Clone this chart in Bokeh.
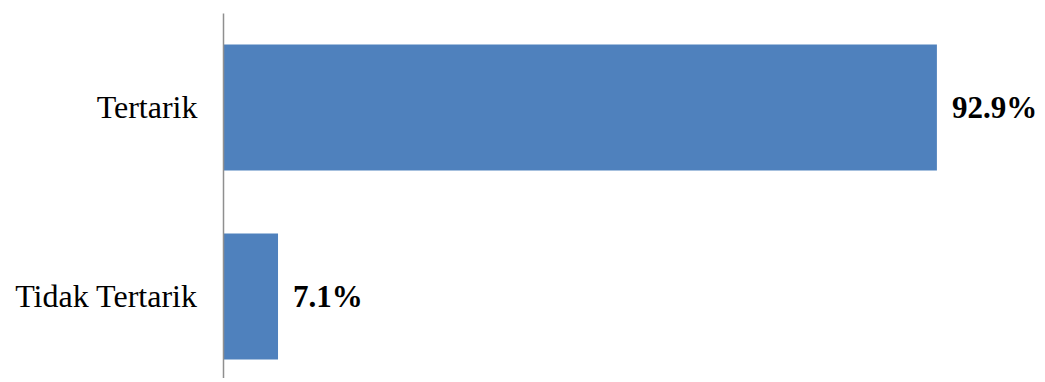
from bokeh.plotting import figure
from bokeh.models import ColumnDataSource, FixedTicker, Range1d
from bokeh.core.properties import value
from bokeh.embed import file_html
from bokeh.resources import INLINE

categories = ["Tertarik", "Tidak Tertarik"]
percentages = [92.9, 7.1]
value_labels = ["92.9%", "7.1%"]

n = len(categories)
ypos = [n - 1 - i for i in range(n)]

src = ColumnDataSource(dict(
    y=ypos,
    right=percentages,
    label=value_labels,
    cat=categories,
))

p = figure(width=1037, height=378, output_backend="svg", toolbar_location=None,
           x_range=Range1d(0, 106), y_range=Range1d(-0.434, 1.497),
           min_border_left=223, min_border_right=0, min_border_top=13, min_border_bottom=0)

p.hbar(y="y", left=0, right="right", height=0.667, source=src,
       fill_color="#4F81BD", line_color=None)

p.text(x="right", y="y", text="label", source=src, x_offset=15,
       text_align="left", text_baseline="middle",
       text_font=value("Liberation Serif"), text_font_style="bold",
       text_font_size="31px", text_color="black")

p.xaxis.visible = False
p.xgrid.visible = False
p.ygrid.visible = False
p.outline_line_color = None

ya = p.yaxis[0]
ya.ticker = FixedTicker(ticks=ypos)
ya.major_label_overrides = {y: c for y, c in zip(ypos, categories)}
ya.major_tick_line_color = None
ya.minor_tick_line_color = None
ya.major_tick_out = 0
ya.major_tick_in = 0
ya.axis_line_color = "#8f8f8f"
ya.axis_line_width = 1.5
ya.major_label_standoff = 26
ya.major_label_text_font = "Liberation Serif"
ya.major_label_text_font_size = "32px"
ya.major_label_text_color = "black"

open("out.html", "w").write(file_html(p, INLINE))
